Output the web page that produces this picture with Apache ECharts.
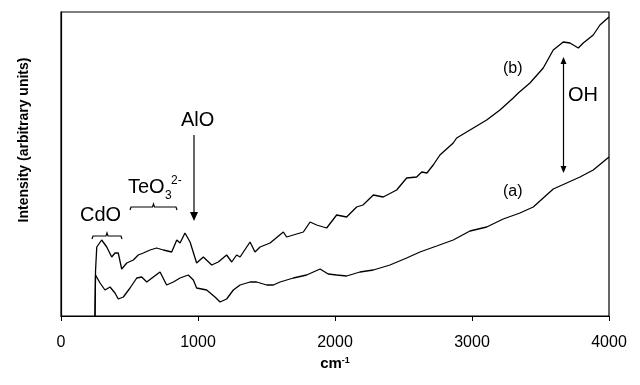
<!DOCTYPE html>
<html><head><meta charset="utf-8">
<script src="https://cdn.jsdelivr.net/npm/echarts@6/dist/echarts.min.js"></script>
<style>html,body{margin:0;padding:0;background:#fff}#c{width:640px;height:385px}</style>
</head><body><div id="c"></div>
<script>
// wavenumber (cm-1) and intensity (arbitrary units)
var curveA_x = [248,252,285,321,358,394,418,455,504,553,589,626,674,723,771,820,869,929,966,990,1063,1124,1161,1209,1258,1307,1380,1428,1501,1550,1599,1696,1793,1891,1950,2012,2085,2182,2280,2401,2523,2620,2742,2863,2985,3107,3228,3350,3447,3520,3593,3691,3788,3885,4000];
var curveA_y = [0,41,33,26,29,23,17,19,28,38,39,34,39,44,31,34,38,41,36,28,26,19,14,17,26,31,34,34,31,31,34,38,41,47,42,41,40,44,46,51,58,64,70,76,85,89,97,103,109,118,127,133,139,146,159];
var curveB_x = [248,252,261,297,334,370,394,418,443,480,528,564,601,650,698,747,808,845,869,905,942,990,1039,1100,1148,1209,1246,1282,1307,1380,1416,1453,1526,1623,1647,1769,1818,1866,1939,2012,2085,2158,2204,2280,2352,2450,2523,2596,2633,2671,2717,2766,2863,2888,2985,3107,3204,3301,3338,3423,3520,3593,3666,3715,3776,3812,3885,3934,4000];
var curveB_y = [0,45,69,76,69,59,63,63,47,53,56,61,63,66,68,66,64,76,73,83,74,53,59,51,54,61,54,61,59,74,64,69,73,84,79,84,94,91,88,101,99,109,111,121,119,126,138,139,144,143,151,161,173,178,186,196,206,218,223,233,248,266,274,273,268,273,281,291,299];
var xTicks = [0,1000,2000,3000,4000];

function pairs(xs, ys){ return xs.map(function(x,i){return [x, ys[i]];}); }

var chart = echarts.init(document.getElementById('c'));
var font = 'Liberation Sans, Arial, sans-serif';
function txt(x, y, s, size, bold){
  return {type:'text', left:x, top:y, style:{text:s, fill:'#000', font:(bold?'bold ':'')+size+'px '+font}};
}
function brace(x1, x2, y){
  var m = (x1+x2)/2;
  return {type:'polyline', shape:{points:[[x1,y+3],[x1+1,y],[m-1,y],[m,y-3],[m+1,y],[x2-1,y],[x2,y+3]]}, style:{stroke:'#000', lineWidth:1.2, fill:null}};
}
chart.setOption({
  animation:false,
  grid:{left:61, right:31, top:12, bottom:69, show:true, borderColor:'#000', borderWidth:1.2},
  xAxis:{type:'value', min:0, max:4000, interval:1000,
    axisLine:{lineStyle:{color:'#000', width:1.2}},
    axisTick:{length:5, lineStyle:{color:'#000'}},
    splitLine:{show:false},
    axisLabel:{color:'#000', fontSize:16, fontFamily:font, margin:19, formatter:function(v){return xTicks.indexOf(v)>=0?String(v):'';}},
    name:'cm{sup|-1}', nameLocation:'middle', nameGap:38,
    nameTextStyle:{color:'#000', fontSize:15, fontWeight:'bold', fontFamily:font, rich:{sup:{fontSize:9, fontWeight:'bold', verticalAlign:'top', padding:[0,0,7,0]}}}
  },
  yAxis:{type:'value', min:0, max:304,
    axisLine:{show:true, lineStyle:{color:'#000', width:1.2}},
    axisTick:{show:false}, axisLabel:{show:false}, splitLine:{show:false}
  },
  series:[
    {type:'line', data:pairs(curveA_x, curveA_y), showSymbol:false, lineStyle:{color:'#000', width:1.3}},
    {type:'line', data:pairs(curveB_x, curveB_y), showSymbol:false, lineStyle:{color:'#000', width:1.3}}
  ],
  graphic:[
    {type:'text', x:24, y:140, rotation:Math.PI/2, style:{text:'Intensity (arbitrary units)', fill:'#000', font:'bold 14px '+font, align:'center', verticalAlign:'middle'}},
    txt(80, 205, 'CdO', 20),
    brace(92, 122, 236),
    txt(128, 177, 'TeO', 20),
    txt(165, 190, '3', 12),
    txt(171, 175, '2-', 12),
    brace(130, 177, 207),
    txt(181, 110, 'AlO', 20),
    {type:'line', shape:{x1:194, y1:135, x2:194, y2:214}, style:{stroke:'#000', lineWidth:1.2}},
    {type:'polygon', shape:{points:[[190,212],[198,212],[194,221]]}, style:{fill:'#000'}},
    txt(503, 61, '(b)', 16),
    txt(503, 184, '(a)', 16),
    txt(568, 85, 'OH', 20),
    {type:'line', shape:{x1:563.5, y1:63, x2:563.5, y2:167}, style:{stroke:'#000', lineWidth:1.2}},
    {type:'polygon', shape:{points:[[560.5,64],[566.5,64],[563.5,57]]}, style:{fill:'#000'}},
    {type:'polygon', shape:{points:[[560.5,166],[566.5,166],[563.5,173]]}, style:{fill:'#000'}}
  ]
});
</script></body></html>
